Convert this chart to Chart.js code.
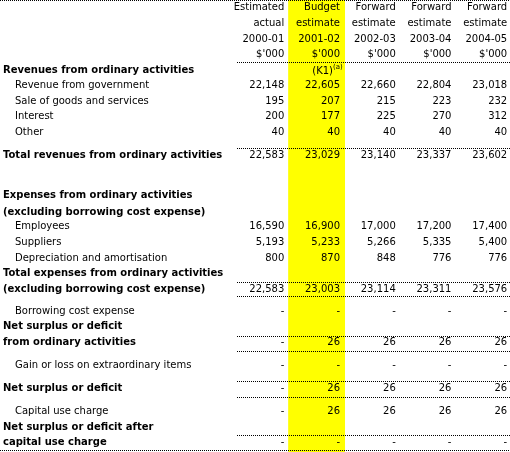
<!DOCTYPE html>
<html>
<head>
<meta charset="utf-8">
<script src="https://cdn.jsdelivr.net/npm/chart.js@4"></script>
<style>
  body { margin: 0; background: #fff; }
  canvas { display: block; }
</style>
</head>
<body>
<canvas id="tbl" width="510" height="452"></canvas>
<script>
// column headings, one array per heading line
const headLine1 = ['Estimated', 'Budget', 'Forward', 'Forward', 'Forward'];
const headLine2 = ['actual', 'estimate', 'estimate', 'estimate', 'estimate'];
const headLine3 = ['2000-01', '2001-02', '2002-03', '2003-04', '2004-05'];
const headLine4 = ["$'000", "$'000", "$'000", "$'000", "$'000"];

// values per column (null = "-")
const actual2000 = [22148, 195, 200, 40, 22583, 16590, 5193, 800, 22583, null, null, null, null, null, null];
const budget2001 = [22605, 207, 177, 40, 23029, 16900, 5233, 870, 23003, null, 26, null, 26, 26, null];
const forward2002 = [22660, 215, 225, 40, 23140, 17000, 5266, 848, 23114, null, 26, null, 26, 26, null];
const forward2003 = [22804, 223, 270, 40, 23337, 17200, 5335, 776, 23311, null, 26, null, 26, 26, null];
const forward2004 = [23018, 232, 312, 40, 23602, 17400, 5400, 776, 23576, null, 26, null, 26, 26, null];
const columns = [actual2000, budget2001, forward2002, forward2003, forward2004];

// row labels: [text, row, bold, indent, value index]
const rows = [
  ['Revenues from ordinary activities', 4, true, false, -1],
  ['Revenue from government', 5, false, true, 0],
  ['Sale of goods and services', 6, false, true, 1],
  ['Interest', 7, false, true, 2],
  ['Other', 8, false, true, 3],
  ['Total revenues from ordinary activities', 9.5, true, false, 4],
  ['Expenses from ordinary activities', 12.05, true, false, -1],
  ['(excluding borrowing cost expense)', 13.1, true, false, -1],
  ['Employees', 14.05, false, true, 5],
  ['Suppliers', 15.05, false, true, 6],
  ['Depreciation and amortisation', 16.05, false, true, 7],
  ['Total expenses from ordinary activities', 17.05, true, false, -1],
  ['(excluding borrowing cost expense)', 18.1, true, false, 8],
  ['Borrowing cost expense', 19.5, false, true, 9],
  ['Net surplus or deficit', 20.45, true, false, -1],
  ['from ordinary activities', 21.5, true, false, 10],
  ['Gain or loss on extraordinary items', 22.95, false, true, 11],
  ['Net surplus or deficit', 24.4, true, false, 12],
  ['Capital use charge', 25.9, false, true, 13],
  ['Net surplus or deficit after', 26.9, true, false, -1],
  ['capital use charge', 27.9, true, false, 14]
];

// dotted rules: [row position, start column]
const rules = [[-0.5, -5.1], [3.47, -0.85], [8.99, -0.85], [17.58, -0.85], [18.47, -0.85],
  [21.04, -0.85], [22.0, -0.85], [23.92, -0.85], [24.95, -0.85], [27.38, -0.85], [28.4, -5.1]];

const fmt = v => v === null ? '-' : v.toLocaleString('en-US');
const REG = '10px "DejaVu Sans"';
const BOLD = 'bold 10px "DejaVu Sans"';

const points = [];
columns.forEach((col, c) => {
  rows.forEach(r => { if (r[4] >= 0) points.push({ x: c, y: r[1], t: fmt(col[r[4]]) }); });
  [headLine1, headLine2, headLine3, headLine4].forEach((h, i) => points.push({ x: c, y: i, t: h[c] }));
});

const tablePlugin = {
  id: 'tablePlugin',
  beforeDatasetsDraw(chart) {
    const { ctx, scales: { x, y } } = chart;
    ctx.save();
    // highlighted budget column
    ctx.fillStyle = '#ffff00';
    const x0 = x.getPixelForValue(0.07), x1 = x.getPixelForValue(1.09);
    ctx.fillRect(x0, 0, x1 - x0, chart.height);
    // dotted rules
    ctx.fillStyle = '#000';
    rules.forEach(([ry, rx]) => {
      const py = Math.round(y.getPixelForValue(ry));
      for (let px = Math.round(x.getPixelForValue(rx)); px < chart.width; px += 2) ctx.fillRect(px, py, 1, 1);
    });
    ctx.restore();
  },
  afterDatasetsDraw(chart) {
    const { ctx, scales: { x, y } } = chart;
    ctx.save();
    ctx.fillStyle = '#000';
    ctx.textBaseline = 'middle';
    ctx.textAlign = 'right';
    ctx.font = REG;
    chart.data.datasets[0].data.forEach(p => {
      ctx.fillText(p.t, x.getPixelForValue(p.x), y.getPixelForValue(p.y));
    });
    // footnote marker in budget column
    const kx = x.getPixelForValue(1) - 7, ky = y.getPixelForValue(4);
    ctx.fillText('(K1)', kx, ky + 1);
    ctx.textAlign = 'left';
    ctx.font = '7px "DejaVu Sans"';
    ctx.fillText('(a)', kx, ky - 3);
    // row labels
    rows.forEach(r => {
      ctx.font = r[2] ? BOLD : REG;
      ctx.fillText(r[0], r[3] ? 15 : 3, y.getPixelForValue(r[1]));
    });
    ctx.restore();
  }
};

new Chart(document.getElementById('tbl'), {
  type: 'scatter',
  data: { datasets: [{ data: points, pointRadius: 0, pointHoverRadius: 0 }] },
  options: {
    responsive: false,
    animation: false,
    events: [],
    layout: { padding: 0 },
    plugins: { legend: { display: false }, tooltip: { enabled: false } },
    scales: {
      x: { type: 'linear', min: -5.1, max: 4.05, display: false },
      y: { type: 'linear', min: -0.5, max: 28.5, reverse: true, display: false }
    }
  },
  plugins: [tablePlugin]
});
</script>
</body>
</html>
